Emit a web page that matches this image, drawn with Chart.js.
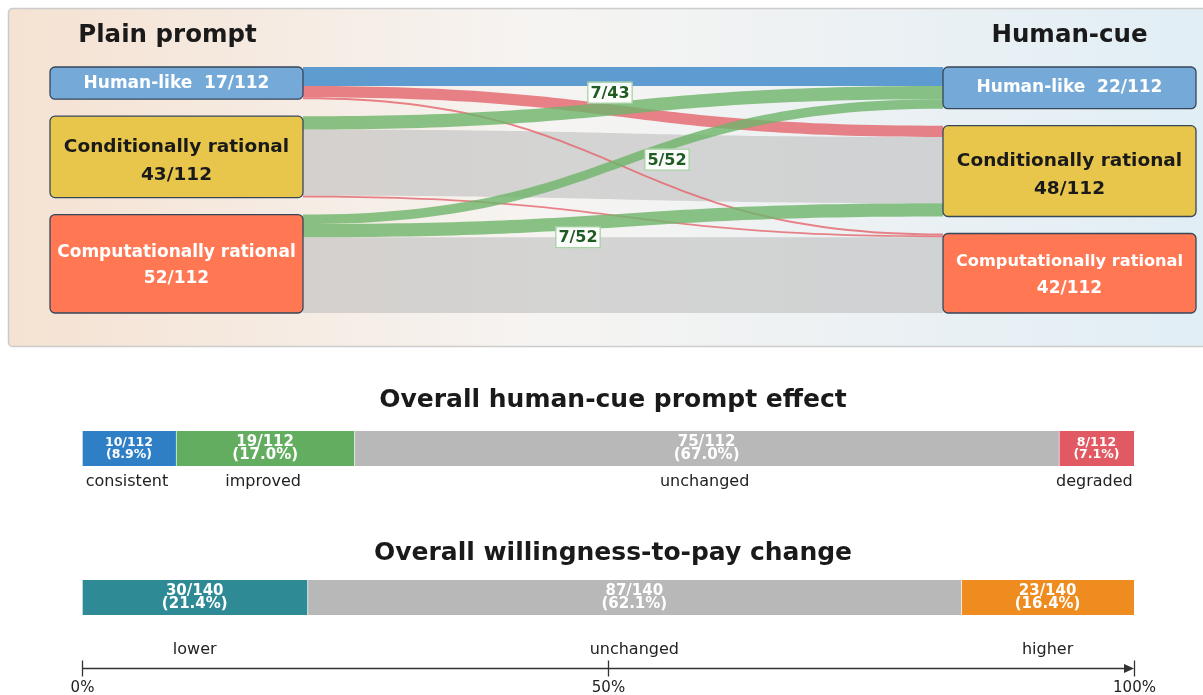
<!DOCTYPE html>
<html>
<head>
<meta charset="utf-8">
<script src="https://cdn.jsdelivr.net/npm/chart.js@4.4.1/dist/chart.umd.min.js"></script>
<style>
  html, body { margin: 0; padding: 0; background: #fff; }
  body { width: 1203px; height: 695px; position: relative; overflow: hidden; }
  .box { position: absolute; left: 0; width: 1203px; }
  #sankeyBox { top: 0; height: 350px; }
  #effectBox { top: 385px; height: 121px; }
  #wtpBox { top: 538px; height: 157px; }
</style>
</head>
<body>
<div class="box" id="sankeyBox"><canvas id="sankeyChart"></canvas></div>
<div class="box" id="effectBox"><canvas id="effectChart"></canvas></div>
<div class="box" id="wtpBox"><canvas id="wtpChart"></canvas></div>

<script>
// Sankey data: classification under plain prompt vs human-cue prompt
const categories = ['Human-like', 'Conditionally rational', 'Computationally rational'];
const plainCounts = [17, 43, 52];
const cueCounts = [22, 48, 42];
const respondentTotal = 112;
const flowFrom = [0, 0, 0, 1, 1, 1, 2, 2, 2];
const flowTo = [0, 1, 2, 0, 1, 2, 0, 1, 2];
const flowValues = [10, 6, 1, 7, 35, 1, 5, 7, 40];

// Overall human-cue prompt effect
const effectLabels = ['consistent', 'improved', 'unchanged', 'degraded'];
const effectCounts = [10, 19, 75, 8];
const effectTotal = 112;

// Overall willingness-to-pay change
const wtpLabels = ['lower', 'unchanged', 'higher'];
const wtpCounts = [30, 87, 23];
const wtpTotal = 140;

const axisTicks = [0, 50, 100];
const axisTickLabels = ['0%', '50%', '100%'];

// styles
const FONT = "'DejaVu Sans', sans-serif";
const NODE_W = 253;
const NODE_GAP = 9;
const nodeFill = ['#74a9d8', '#e8c64b', '#ff7753'];
const nodeText = ['#ffffff', '#1a1a1a', '#ffffff'];
const leftNameSize = [17, 18.5, 17];
const rightNameSize = [17, 18.5, 16.2];
const countSize = [17, 18.5, 17];
const lineOffsets = [[0, 0], [-10, 18], [-11, 15]];
const flowColors = {
    consistent: 'rgba(80,148,205,0.92)',
    same: 'rgba(190,190,190,0.6)',
    improved: 'rgba(110,180,105,0.8)',
    degraded: 'rgba(228,100,108,0.8)'
};
const labelNudge = [[-13, -15], [44, -2], [-45, 17]];
const effectColors = ['#2f7fc6', '#62ad5f', '#b7b8b7', '#e15962'];
const wtpColors = ['#2e8b96', '#b7b8b7', '#ef8c1f'];

Chart.defaults.font.family = FONT;
Chart.defaults.animation = false;

function stackSpans(counts) {
    let y = 0;
    return counts.map(c => {
        const span = [y, y + c];
        y += c + NODE_GAP;
        return span;
    });
}

function flowKind(i) {
    if (flowFrom[i] === flowTo[i]) return flowFrom[i] === 0 ? 'consistent' : 'same';
    return flowTo[i] < flowFrom[i] ? 'improved' : 'degraded';
}

const sankeyPlugin = {
    id: 'sankey',
    beforeDraw(chart) {
        const { ctx } = chart;
        const xs = chart.scales.x;
        ctx.save();
        const grad = ctx.createLinearGradient(8, 0, 1203, 0);
        grad.addColorStop(0, '#f5e2d2');
        grad.addColorStop(0.45, '#f6f4f2');
        grad.addColorStop(1, '#e1eef5');
        ctx.beginPath();
        ctx.roundRect(8.5, 8.5, 1205, 338, 4);
        ctx.fillStyle = grad;
        ctx.fill();
        ctx.strokeStyle = '#cccccc';
        ctx.lineWidth = 1.5;
        ctx.stroke();

        ctx.fillStyle = '#1a1a1a';
        ctx.font = `bold 24.5px ${FONT}`;
        ctx.textAlign = 'center';
        ctx.textBaseline = 'middle';
        const left = xs.getPixelForValue(0);
        const right = xs.getPixelForValue(1);
        ctx.fillText('Plain prompt', left + NODE_W / 2 - 9, 36);
        ctx.fillText('Human-cue', right - NODE_W / 2, 36);
        ctx.restore();
    },
    afterDraw(chart) {
        const { ctx } = chart;
        const xs = chart.scales.x;
        const ys = chart.scales.y;
        const leftSpans = stackSpans(plainCounts);
        const rightSpans = stackSpans(cueCounts);
        const xL = xs.getPixelForValue(0) + NODE_W;
        const xR = xs.getPixelForValue(1) - NODE_W;
        const xm = (xL + xR) / 2;

        // stack flows inside each node
        const outCursor = leftSpans.map(s => s[0]);
        const inCursor = rightSpans.map(s => s[0]);
        const flows = flowValues.map((v, i) => {
            const a = outCursor[flowFrom[i]];
            const b = inCursor[flowTo[i]];
            outCursor[flowFrom[i]] += v;
            inCursor[flowTo[i]] += v;
            return { i, v, a, b, kind: flowKind(i) };
        });

        const order = ['same', 'consistent', 'degraded', 'improved'];
        ctx.save();
        order.forEach(kind => {
            flows.filter(f => f.kind === kind).forEach(f => {
                const y0t = ys.getPixelForValue(f.a);
                const y0b = ys.getPixelForValue(f.a + f.v);
                const y1t = ys.getPixelForValue(f.b);
                const y1b = ys.getPixelForValue(f.b + f.v);
                ctx.beginPath();
                ctx.moveTo(xL, y0t);
                ctx.bezierCurveTo(xm, y0t, xm, y1t, xR, y1t);
                ctx.lineTo(xR, y1b);
                ctx.bezierCurveTo(xm, y1b, xm, y0b, xL, y0b);
                ctx.closePath();
                ctx.fillStyle = flowColors[kind];
                ctx.fill();
            });
        });

        // nodes
        const drawNode = (x, span, idx, count, nameSize) => {
            const top = ys.getPixelForValue(span[0]);
            const bottom = ys.getPixelForValue(span[1]);
            ctx.beginPath();
            ctx.roundRect(x, top, NODE_W, bottom - top, 5);
            ctx.fillStyle = nodeFill[idx];
            ctx.fill();
            ctx.strokeStyle = '#36475a';
            ctx.lineWidth = 1.3;
            ctx.stroke();
            ctx.fillStyle = nodeText[idx];
            ctx.textAlign = 'center';
            ctx.textBaseline = 'middle';
            const cx = x + NODE_W / 2;
            const cy = (top + bottom) / 2;
            if (idx === 0) {
                ctx.font = `bold ${nameSize}px ${FONT}`;
                ctx.fillText(`${categories[idx]}  ${count}/${respondentTotal}`, cx, cy);
            } else {
                ctx.font = `bold ${nameSize}px ${FONT}`;
                ctx.fillText(categories[idx], cx, cy + lineOffsets[idx][0]);
                ctx.font = `bold ${countSize[idx]}px ${FONT}`;
                ctx.fillText(`${count}/${respondentTotal}`, cx, cy + lineOffsets[idx][1]);
            }
        };
        leftSpans.forEach((s, k) => drawNode(xs.getPixelForValue(0), s, k, plainCounts[k], leftNameSize[k]));
        rightSpans.forEach((s, k) => drawNode(xR, s, k, cueCounts[k], rightNameSize[k]));

        // labels on improved flows
        ctx.font = `bold 16px ${FONT}`;
        flows.filter(f => f.kind === 'improved').forEach((f, n) => {
            const yc0 = ys.getPixelForValue(f.a + f.v / 2);
            const yc1 = ys.getPixelForValue(f.b + f.v / 2);
            const lx = xm + labelNudge[n][0];
            const ly = (yc0 + yc1) / 2 + labelNudge[n][1];
            const text = `${f.v}/${plainCounts[flowFrom[f.i]]}`;
            const w = ctx.measureText(text).width + 6;
            ctx.fillStyle = 'rgba(255,255,255,0.92)';
            ctx.fillRect(lx - w / 2, ly - 11, w, 22);
            ctx.strokeStyle = '#8cc489';
            ctx.lineWidth = 1;
            ctx.strokeRect(lx - w / 2 + 0.5, ly - 10.5, w - 1, 21);
            ctx.fillStyle = '#1f5c22';
            ctx.fillText(text, lx, ly + 1);
        });
        ctx.restore();
    }
};

new Chart(document.getElementById('sankeyChart'), {
    type: 'scatter',
    data: { datasets: [] },
    options: {
        responsive: true,
        maintainAspectRatio: false,
        layout: { padding: { left: 50, right: 7, top: 67, bottom: 37 } },
        scales: {
            x: { type: 'linear', min: 0, max: 1, display: false },
            y: {
                type: 'linear', min: 0, reverse: true, display: false,
                max: respondentTotal + NODE_GAP * (categories.length - 1)
            }
        },
        plugins: { legend: { display: false }, tooltip: { enabled: false } }
    },
    plugins: [sankeyPlugin]
});

// stacked share bar with labels in and under each segment
function makeShareBar(id, title, labels, counts, total, colors, opts) {
    const segmentText = {
        id: 'segmentText',
        afterDatasetsDraw(chart) {
            const { ctx, chartArea } = chart;
            ctx.save();
            ctx.textAlign = 'center';
            ctx.textBaseline = 'middle';
            ctx.fillStyle = '#1a1a1a';
            ctx.font = `bold 25px ${FONT}`;
            ctx.fillText(title, (chartArea.left + chartArea.right) / 2 + 5, chartArea.top - opts.titleDrop);
            chart.data.datasets.forEach((ds, i) => {
                const bar = chart.getDatasetMeta(i).data[0];
                const cx = (bar.x + bar.base) / 2;
                const width = Math.abs(bar.x - bar.base);
                const size = width > 120 ? 15 : 12.5;
                ctx.fillStyle = '#ffffff';
                ctx.font = `bold ${size}px ${FONT}`;
                ctx.fillText(`${counts[i]}/${total}`, cx, bar.y - size * 0.45);
                ctx.fillText(`(${(counts[i] / total * 100).toFixed(1)}%)`, cx, bar.y + size * 0.47);
                ctx.fillStyle = '#222222';
                ctx.font = `16px ${FONT}`;
                ctx.fillText(labels[i], cx + opts.labelShift, chartArea.bottom + opts.labelGap);
            });
            if (opts.axis) {
                const xs = chart.scales.x;
                const ay = Math.round(chartArea.bottom + 53) + 0.5;
                const x0 = xs.getPixelForValue(axisTicks[0]);
                const x1 = xs.getPixelForValue(axisTicks[axisTicks.length - 1]);
                ctx.strokeStyle = '#333333';
                ctx.lineWidth = 1.3;
                ctx.beginPath();
                ctx.moveTo(x0, ay);
                ctx.lineTo(x1 - 4, ay);
                ctx.stroke();
                ctx.fillStyle = '#333333';
                ctx.beginPath();
                ctx.moveTo(x1, ay);
                ctx.lineTo(x1 - 10, ay - 4.5);
                ctx.lineTo(x1 - 10, ay + 4.5);
                ctx.closePath();
                ctx.fill();
                ctx.font = `15px ${FONT}`;
                axisTicks.forEach((t, k) => {
                    const tx = Math.round(xs.getPixelForValue(t)) + 0.5;
                    ctx.beginPath();
                    ctx.moveTo(tx, ay - 8);
                    ctx.lineTo(tx, ay + 8);
                    ctx.stroke();
                    ctx.fillStyle = '#222222';
                    ctx.fillText(axisTickLabels[k], tx, ay + 20);
                });
            }
            ctx.restore();
        }
    };

    return new Chart(document.getElementById(id), {
        type: 'bar',
        data: {
            labels: [''],
            datasets: counts.map((c, i) => ({
                label: labels[i],
                data: [c / total * 100],
                backgroundColor: colors[i],
                borderColor: '#ffffff',
                borderWidth: { left: 1, right: 0, top: 0, bottom: 0 },
                borderSkipped: false,
                barPercentage: 1,
                categoryPercentage: 1
            }))
        },
        options: {
            indexAxis: 'y',
            responsive: true,
            maintainAspectRatio: false,
            layout: { padding: { left: 82, right: 69, top: opts.top, bottom: opts.bottom } },
            scales: {
                x: { stacked: true, min: 0, max: 100, display: false },
                y: { stacked: true, display: false }
            },
            plugins: {
                legend: { display: false },
                tooltip: { enabled: false },
                title: { display: false }
            }
        },
        plugins: [segmentText]
    });
}

makeShareBar('effectChart', 'Overall human-cue prompt effect', effectLabels, effectCounts,
    effectTotal, effectColors, { top: 46, bottom: 40, titleDrop: 31, labelGap: 16, labelShift: -2, axis: false });
makeShareBar('wtpChart', 'Overall willingness-to-pay change', wtpLabels, wtpCounts,
    wtpTotal, wtpColors, { top: 42, bottom: 80, titleDrop: 27, labelGap: 35, labelShift: 0, axis: true });
</script>
</body>
</html>
